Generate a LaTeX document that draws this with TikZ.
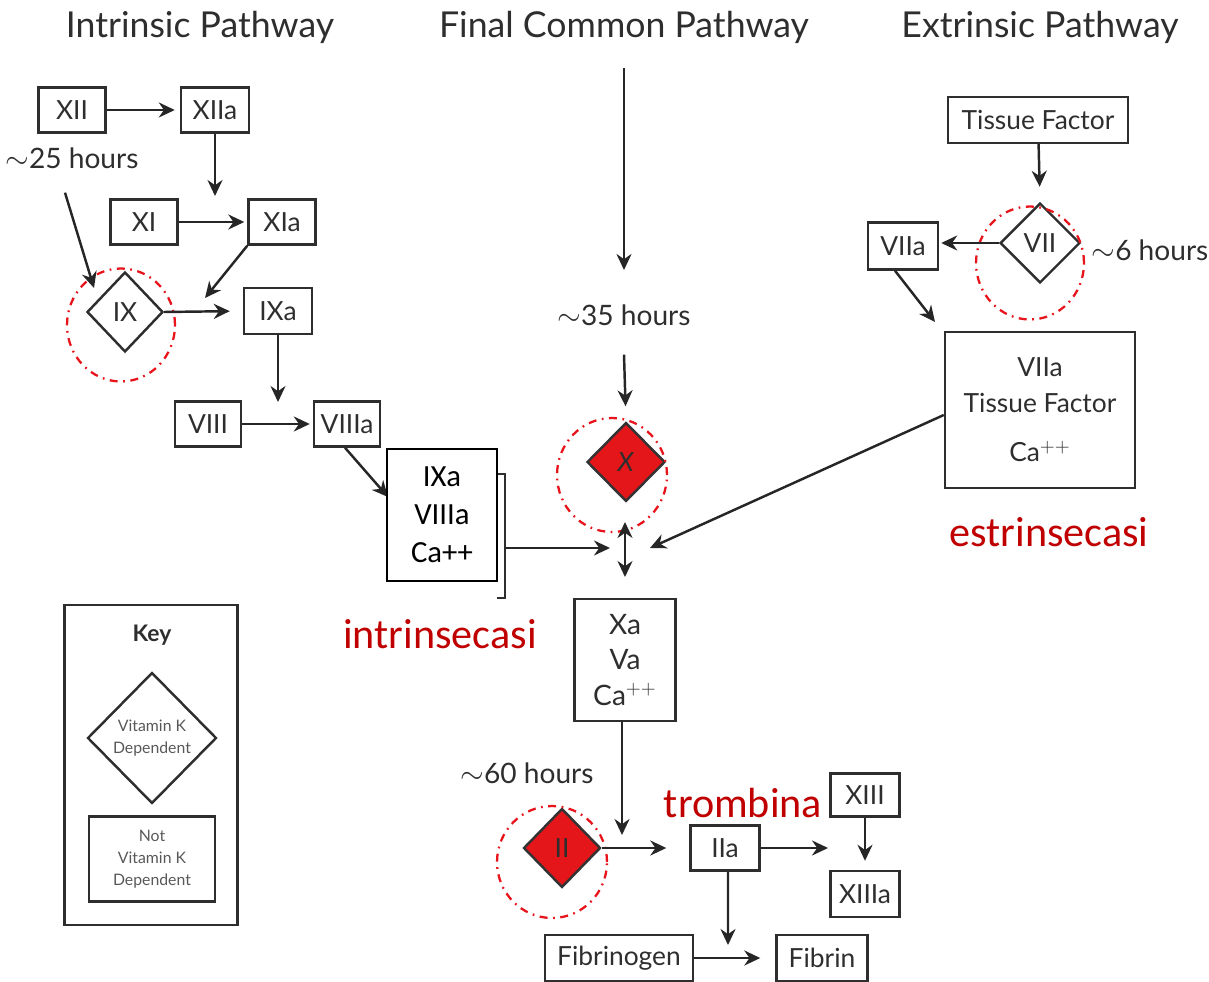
\documentclass[tikz,border=0pt]{standalone}
\usepackage{fontspec}
\setmainfont{Lato}
\newfontfamily\calib{Carlito}
\usetikzlibrary{arrows.meta,shapes.geometric}
\definecolor{ink}{HTML}{2E2E2E}
\definecolor{redfill}{HTML}{E5161A}
\definecolor{redlbl}{HTML}{C00000}
\definecolor{redring}{HTML}{E8141B}
\begin{document}
\begin{tikzpicture}[x=0.02cm,y=-0.02cm,
  box/.style={draw=ink, line width=1.4pt, text=ink, font=\fontsize{15}{17}\selectfont, inner sep=0pt, minimum height=9mm},
  vk/.style={diamond, draw=ink, line width=1.4pt, text=ink, font=\fontsize{15}{17}\selectfont, inner sep=0pt, aspect=1},
  redvk/.style={vk, fill=redfill, draw=black!80},
  arr/.style={draw=black!85, line width=1.4pt, -{Stealth[length=3.2mm,width=3mm]}},
  ring/.style={draw=redring, line width=1.3pt, dash pattern=on 1.6mm off 1.1mm on 0.35mm off 1.1mm},
  title/.style={font=\fontsize{20.3}{23}\selectfont, text=ink},
  hrs/.style={font=\fontsize{16}{18}\selectfont, text=ink},
  redlab/.style={font=\calib\fontsize{24}{27}\selectfont, text=redlbl}]
\useasboundingbox (0,0) rectangle (1209,982);

% titles
\node[title] (t1) at (200,27) {Intrinsic Pathway};
\node[title] (t2) at (624,27) {Final Common Pathway};
\node[title] (t3) at (1040,27) {Extrinsic Pathway};

% intrinsic
\node[box, minimum width=13.4mm] (XII) at (72,110) {XII};
\node[box, minimum width=13.6mm] (XIIa) at (215,110) {XIIa};
\node[hrs] (h25) at (72,158) {$\sim$25 hours};
\node[box, minimum width=13.4mm] (XI) at (144,222) {XI};
\node[box, minimum width=13.4mm] (XIa) at (282,222) {XIa};
\node[vk, minimum width=15.2mm, minimum height=16mm] (IX) at (125,312) {IX};
\node[box, minimum width=13.6mm, minimum height=9.2mm] (IXa) at (278,311) {IXa};
\node[box, minimum width=13.2mm] (VIII) at (208,424) {VIII};
\node[box, minimum width=13.2mm] (VIIIa) at (347,424) {VIIIa};

\draw[ring] (121,325) ellipse [x radius=10.8mm, y radius=11.3mm];

\coordinate (c1) at (215,196);
\coordinate (c2) at (205,298);
\coordinate (c3) at (278,402);
\coordinate (c4) at (388,497);
\coordinate (c5) at (94,288);
\draw[arr, shorten >=1mm] (XII) -- (XIIa);
\draw[arr] (XIIa) -- (c1);
\draw[arr, shorten >=0.6mm] (XI) -- (XIa);
\draw[arr] (XIa.south west) -- (c2);
\draw[arr, shorten >=2.6mm] (IX.east) -- (IXa.west);
\draw[arr] (IXa) -- (c3);
\draw[arr, shorten >=0.6mm] (VIII) -- (VIIIa);
\draw[arr] ([xshift=-0.4mm]VIIIa.south) -- (c4);
\draw[arr] ([xshift=-1.4mm,yshift=-3.6mm]h25.south) -- (c5);

% complex box (intrinsic)
\draw[ink, line width=1.4pt] (497,474) -- (505,474) -- (505,598) -- (497,598);
\node[draw=black, line width=1.3pt, fill=white, minimum width=22mm, minimum height=26.4mm, inner sep=0pt,
      align=center, font=\calib\fontsize{17.5}{21.5}\selectfont] (cpx) at (442,515) {IXa\\VIIIa\\Ca++};
\node[redlab] (intr) at (440,634) {intrinsecasi};

% final common
\coordinate (top) at (624,68);
\coordinate (c6) at (624,270);
\draw[arr] (top) -- (c6);
\node[hrs] (h35) at (624,315) {$\sim$35 hours};
\node[redvk, minimum width=15.6mm, minimum height=15.8mm] (X) at (626,462) {\textit{X}};
\draw[ring] (612,475) ellipse [x radius=11mm, y radius=11.4mm];
\draw[arr, shorten >=3mm] ([yshift=-4.6mm]h35.south) -- (X.north);
\coordinate (c7) at (625,522);
\coordinate (c8) at (625,577);
\draw[draw=black!85, line width=1.4pt, {Stealth[length=3.2mm,width=3mm]}-{Stealth[length=3.2mm,width=3mm]}] (c7) -- (c8);
\coordinate (br) at (505,548);
\coordinate (cj) at (610,548);
\draw[arr] (br) -- (cj);

\node[box, minimum width=20.2mm, minimum height=24.4mm, align=center, font=\fontsize{16}{20.4}\selectfont] (Xa) at (625,660) {Xa\\Va\\Ca$^{++}$};
\node[hrs] (h60) at (527,773) {$\sim$60 hours};
\node[redvk, minimum width=15.4mm, minimum height=15.8mm] (II) at (562,848) {II};
\draw[ring] (552,862) ellipse [x radius=11mm, y radius=11.2mm];
\coordinate (c9) at (622,835);
\draw[arr] (Xa.south -| c9) -- (c9);
\node[box, minimum width=13.8mm] (IIa) at (725,848) {IIa};
\draw[arr, shorten >=4.6mm] (II.east) -- (IIa.west);
\node[redlab] (tromb) at (743,803) {trombina};
\node[box, minimum width=13.8mm, minimum height=8.6mm] (XIII) at (865,795) {XIII};
\node[box, minimum width=13.8mm, minimum height=9.2mm] (XIIIa) at (865,894) {XIIIa};
\coordinate (c11) at (828,848);
\draw[arr] (IIa) -- (c11);
\draw[arr, shorten >=1.8mm] (XIII) -- (XIIIa);
\node[box, minimum width=29.6mm, minimum height=9.2mm] (Fgn) at (619,958) {Fibrinogen};
\node[box, minimum width=18.2mm, minimum height=9.2mm] (Fbn) at (822,958) {Fibrin};
\coordinate (c12) at (728,945);
\draw[arr] ([xshift=0.6mm]IIa.south) -- (c12);
\draw[arr, shorten >=3mm] (Fgn) -- (Fbn);

% extrinsic
\node[box, minimum width=36mm, minimum height=9.2mm] (TF) at (1038,120) {Tissue Factor};
\node[vk, minimum width=16mm, minimum height=16mm] (VII) at (1040,243) {VII};
\draw[ring] (1030,263) ellipse [x radius=10.8mm, y radius=11.3mm];
\node[hrs] (h6) at (1150,250) {$\sim$6 hours};
\node[box, minimum width=14mm, minimum height=9.4mm] (VIIa) at (903,246) {VIIa};
\draw[arr, shorten >=3mm] (TF) -- (VII.north);
\draw[arr, shorten >=0.4mm] (VII.west) -- (VIIa.east |- VII.west);
\coordinate (c13) at (935,322);
\draw[arr] ([xshift=-1.6mm]VIIa.south) -- (c13);
\node[box, minimum width=38mm, minimum height=31.2mm, align=center, font=\fontsize{15}{20.4}\selectfont] (EXT) at (1040,410) {VIIa\\Tissue Factor\\[2.6mm]Ca$^{++}$};
\coordinate (cj2) at (650,548);
\draw[arr] ([yshift=-1mm]EXT.west) -- (cj2);
\node[redlab] (estr) at (1049,532) {estrinsecasi};

% key
\node[draw=ink, line width=1.4pt, minimum width=34.6mm, minimum height=64mm, inner sep=0pt] (key) at (151,765) {};
\node[font=\bfseries\fontsize{13}{15}\selectfont, text=ink] (keyt) at (152,635) {Key};
\node[vk, minimum width=25.8mm, minimum height=26.2mm, align=center, font=\fontsize{9}{12.5}\selectfont, text=ink!80] (kd) at (152,738) {Vitamin K\\Dependent};
\node[box, minimum width=25.2mm, minimum height=17mm, align=center, font=\fontsize{9}{12.5}\selectfont, text=ink!80] (kb) at (152,859) {Not\\Vitamin K\\Dependent};
\end{tikzpicture}
\end{document}
